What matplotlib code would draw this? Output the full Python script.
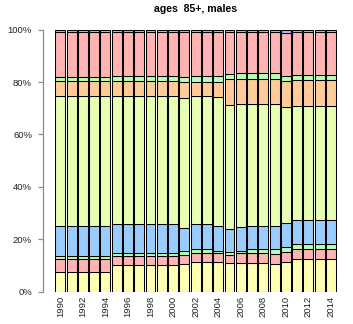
import matplotlib
matplotlib.use("Agg")
import matplotlib.pyplot as plt
import numpy as np

plt.rcParams['font.family'] = ['Liberation Sans', 'DejaVu Sans']

# shares per year (percent), from bottom to top of each bar
years = list(range(1990, 2015))
seg_yellow = [7.4]*5 + [10.2]*6 + [10.5, 11.5, 11.5, 11.5, 10.8, 10.8, 10.8, 10.8, 10.7, 11.2] + [12.4]*4
seg_pink = [5.1]*5 + [3.3]*6 + [3.5, 3.2, 3.2, 3.4, 3.1, 3.9, 3.9, 3.9, 3.7, 4.0] + [3.9]*4
seg_green = [1.2]*5 + [1.3]*6 + [1.5, 1.6, 1.5, 0.7, 1.1, 0.9, 1.7, 1.7, 2.0, 1.8] + [2.0]*4
seg_blue = [11.4]*5 + [11.2]*6 + [8.9, 9.4, 9.5, 9.4, 8.9, 9.0, 8.8, 8.8, 8.6, 9.4] + [9.1]*4
seg_lime = [49.7]*5 + [48.6]*6 + [49.7, 48.9, 48.9, 49.5, 47.4, 47.0, 46.4, 46.4, 46.6, 44.1] + [43.6]*4
seg_orange = [5.6]*5 + [5.8]*6 + [5.9, 5.6, 5.6, 5.6, 9.8, 9.5, 9.5, 9.5, 9.5, 10.0] + [9.7]*4
seg_green2 = [1.6]*5 + [2.0]*6 + [1.8, 2.1, 2.1, 2.2, 2.0, 2.2, 2.2, 2.2, 2.2, 1.9] + [2.1]*4
seg_pink2 = [17.3]*5 + [16.9]*6 + [17.5, 16.9, 16.9, 16.9, 15.9, 15.7, 15.7, 15.7, 15.7, 16.5] + [16.2]*4
seg_lavender = [0.7]*5 + [0.7]*6 + [0.7, 0.8, 0.8, 0.8, 1.0, 1.0, 1.0, 1.0, 1.0, 1.1] + [1.0]*4

segments = [seg_yellow, seg_pink, seg_green, seg_blue, seg_lime,
            seg_orange, seg_green2, seg_pink2, seg_lavender]
colors = ['#FFFFB3', '#FFB3B3', '#B3FFB3', '#99CCFF', '#E6FFB3',
          '#FFCC99', '#B3FFB3', '#FFB3B3', '#B3B3FF']

ytick_vals = [0, 20, 40, 60, 80, 100]
ytick_labels = ['0%', '20%', '40%', '60%', '80%', '100%']

data = np.array(segments, dtype=float)
data = data / data.sum(axis=0) * 100  # like prop.table

fig = plt.figure(figsize=(3.53, 3.24), dpi=100)
ax = fig.add_axes([54.66/353, 32.3/324, (336.64-54.66)/353, 262/324])

x = np.arange(len(years))
bottom = np.zeros(len(years))
for vals, col in zip(data, colors):
    ax.bar(x, vals, width=0.88, bottom=bottom, color=col,
           edgecolor='black', linewidth=0.75)
    bottom += vals

ax.set_xlim(-0.5, len(years) - 0.5)
ax.set_ylim(0, 100)

for s in ['top', 'right', 'bottom']:
    ax.spines[s].set_visible(False)
ax.spines['left'].set_position(('outward', 8.2))
ax.spines['left'].set_color('#8c8c8c')
ax.spines['left'].set_linewidth(0.9)

ax.set_yticks(ytick_vals)
ax.set_yticklabels(ytick_labels)
ax.tick_params(axis='y', color='#8c8c8c', length=3.6, width=0.9,
               labelsize=6.8, pad=4.5, labelcolor='#222222')

ax.set_xticks(x[::2])
ax.set_xticklabels([str(y) for y in years[::2]], rotation=90)
ax.tick_params(axis='x', length=0, labelsize=6.8, pad=2.7, labelcolor='#222222')

fig.text(195.6/353, 1 - 11.5/324, 'ages  85+, males', ha='center', va='baseline',
         fontsize=7.6, fontweight='bold')

fig.savefig('out.png', dpi=100)
